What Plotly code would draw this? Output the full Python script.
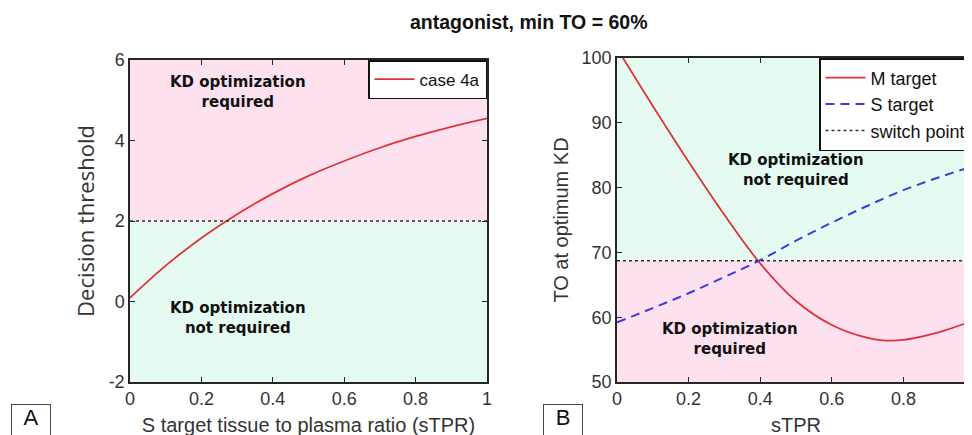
import plotly.graph_objects as go

W, H = 972, 435
OFF = 8  # default page margin of the html body

# ---- data ----
stpr_a = [0, 0.1, 0.2, 0.3, 0.4, 0.5, 0.6, 0.7, 0.8, 0.9, 1.0]
threshold_case4a = [0.09, 0.89, 1.58, 2.17, 2.68, 3.12, 3.49, 3.82, 4.10, 4.34, 4.55]
decision_line_a = 2.0

stpr_b = [0, 0.1, 0.2, 0.3, 0.4, 0.5, 0.6, 0.7, 0.75, 0.8, 0.9, 1.0]
to_m_target = [101.5, 92.6, 84.0, 75.8, 68.3, 62.5, 58.8, 56.8, 56.4, 56.5, 57.7, 59.6]
stpr_s = [0, 0.1, 0.2, 0.3, 0.4, 0.5, 0.6, 0.7, 0.8, 0.9, 1.0]
to_s_target = [59.2, 61.4, 63.7, 66.2, 68.8, 71.8, 74.6, 77.2, 79.6, 81.6, 83.4]
switch_point = 68.7

xticks = [0, 0.2, 0.4, 0.6, 0.8, 1.0]
yticks_a = [-2, 0, 2, 4, 6]
yticklabels_a = ["-2", "0", "2", "4", "6"]
yticks_b = [50, 60, 70, 80, 90, 100]

PINK = "#fde1ee"
GREEN = "#e5fbf1"
RED = "#e0323c"
BLUE = "#3b3bdc"
DOT = "#333333"
AXC = "#262626"
TXT = "#333333"

def px_x(p):
    return (p - OFF) / W

def px_y(p):
    return 1 - (p - OFF) / H

fig = go.Figure()

# Panel A
fig.add_trace(go.Scatter(x=stpr_a, y=threshold_case4a, mode="lines", name="case 4a",
                         line=dict(color=RED, width=1.8, shape="spline"),
                         xaxis="x", yaxis="y", legend="legend"))
fig.add_trace(go.Scatter(x=[0, 1], y=[decision_line_a, decision_line_a], mode="lines",
                         showlegend=False, line=dict(color=DOT, width=1.6, dash="dot"),
                         xaxis="x", yaxis="y"))

# Panel B
fig.add_trace(go.Scatter(x=stpr_b, y=to_m_target, mode="lines", name="M target",
                         line=dict(color=RED, width=1.8, shape="spline"),
                         xaxis="x2", yaxis="y2", legend="legend2"))
fig.add_trace(go.Scatter(x=stpr_s, y=to_s_target, mode="lines", name="S target",
                         line=dict(color=BLUE, width=2, dash="9px,6px", shape="spline"),
                         xaxis="x2", yaxis="y2", legend="legend2"))
fig.add_trace(go.Scatter(x=[0, 1], y=[switch_point, switch_point], mode="lines", name="switch point",
                         line=dict(color=DOT, width=1.6, dash="dot"),
                         xaxis="x2", yaxis="y2", legend="legend2"))

shapes = [
    dict(type="rect", xref="x", yref="y", x0=0, x1=1, y0=decision_line_a, y1=6,
         fillcolor=PINK, line=dict(width=0), layer="below"),
    dict(type="rect", xref="x", yref="y", x0=0, x1=1, y0=-2, y1=decision_line_a,
         fillcolor=GREEN, line=dict(width=0), layer="below"),
    dict(type="rect", xref="x2", yref="y2", x0=0, x1=1.1, y0=switch_point, y1=100,
         fillcolor=GREEN, line=dict(width=0), layer="below"),
    dict(type="rect", xref="x2", yref="y2", x0=0, x1=1.1, y0=50, y1=switch_point,
         fillcolor=PINK, line=dict(width=0), layer="below"),
]

tickfont = dict(family="Liberation Sans, Arial, sans-serif", size=18, color=TXT)
titlefont = dict(family="Liberation Sans, Arial, sans-serif", size=20, color=TXT)
titlefont_a = dict(family="Open Sans, sans-serif", size=22, color=TXT)

axis_common = dict(showline=True, linecolor=AXC, linewidth=1.5, mirror="ticks",
                   ticks="inside", ticklen=5, tickcolor=AXC, tickwidth=1.2,
                   showgrid=False, zeroline=False, tickfont=tickfont, automargin=False)

bold = "DejaVu Sans, Verdana, sans-serif"
ann_font = dict(family=bold, size=15, color="#111111")

def note(text, x, y):
    return dict(text=text, xref="paper", yref="paper", x=px_x(x), y=px_y(y),
                xanchor="center", yanchor="middle", showarrow=False, font=ann_font)

annotations = [
    dict(text="<b>antagonist, min TO = 60%</b>", xref="paper", yref="paper",
         x=px_x(529), y=px_y(22), xanchor="center", yanchor="middle", showarrow=False,
         font=dict(family="Liberation Sans, Arial, sans-serif", size=19.5, color="#111111")),
    note("<b>KD optimization<br>required</b>", 238, 92),
    note("<b>KD optimization<br>not required</b>", 238, 318),
    note("<b>KD optimization<br>not required</b>", 796, 170),
    note("<b>KD optimization<br>required</b>", 730, 339),
    dict(text="A", xref="paper", yref="paper", x=px_x(31), y=px_y(404),
         xanchor="center", yanchor="top", showarrow=False, width=38, height=36,
         bordercolor="#444444", borderwidth=1, borderpad=0, valign="top",
         font=dict(family="Liberation Sans, Arial, sans-serif", size=22, color="#111111")),
    dict(text="B", xref="paper", yref="paper", x=px_x(563), y=px_y(404),
         xanchor="center", yanchor="top", showarrow=False, width=38, height=36,
         bordercolor="#444444", borderwidth=1, borderpad=0, valign="top",
         font=dict(family="Liberation Sans, Arial, sans-serif", size=22, color="#111111")),
]

legfont = dict(family="Liberation Sans, Arial, sans-serif", size=17, color="#111111")
legfont2 = dict(family="Liberation Sans, Arial, sans-serif", size=18, color="#111111")

fig.update_layout(
    width=W, height=H,
    margin=dict(l=0, r=0, t=0, b=0, autoexpand=False),
    paper_bgcolor="white", plot_bgcolor="white",
    shapes=shapes, annotations=annotations,
    xaxis=dict(domain=[px_x(130), px_x(487)], range=[0, 1], tickvals=xticks,
               anchor="y",
               title=dict(text="S target tissue to plasma ratio (sTPR)", font=titlefont, standoff=10),
               **axis_common),
    yaxis=dict(domain=[px_y(382), px_y(60)], range=[-2, 6], tickvals=yticks_a,
               ticktext=yticklabels_a, anchor="x",
               title=dict(text="Decision threshold", font=titlefont_a, standoff=8),
               **axis_common),
    xaxis2=dict(domain=[px_x(617), px_x(975)], range=[0, 1], tickvals=xticks,
                anchor="y2",
                title=dict(text="sTPR", font=titlefont, standoff=10),
                **axis_common),
    yaxis2=dict(domain=[px_y(382), px_y(58)], range=[50, 100], tickvals=yticks_b,
                anchor="x2",
                title=dict(text="TO at optimum KD", font=titlefont, standoff=8),
                **axis_common),
    legend=dict(x=px_x(487), y=px_y(60), xanchor="right", yanchor="top",
                bgcolor="white", bordercolor="#111111", borderwidth=1.5,
                font=legfont, itemwidth=40, tracegroupgap=0),
    legend2=dict(x=px_x(972), y=px_y(58), xanchor="right", yanchor="top",
                 bgcolor="white", bordercolor="#111111", borderwidth=1.5,
                 font=legfont2, itemwidth=40, tracegroupgap=0),
    showlegend=True,
)

fig.write_html("out.html")
